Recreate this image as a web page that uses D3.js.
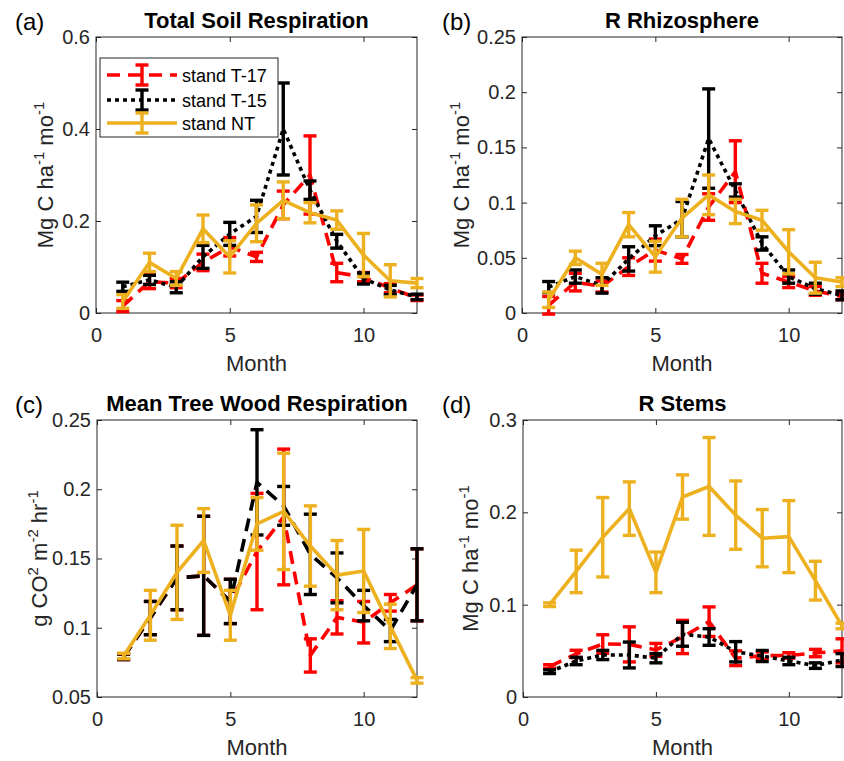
<!DOCTYPE html>
<html lang="en">
<head>
<meta charset="UTF-8">
<title>Respiration by month</title>
<script src="https://d3js.org/d3.v7.min.js"></script>
<style>
  body { margin: 0; background: #fff; }
  svg { font-family: "Liberation Sans", Arial, sans-serif; }
</style>
</head>
<body>
<script>
// ---- data ----
const months = [1, 2, 3, 4, 5, 6, 7, 8, 9, 10, 11, 12];
const seriesNames = ["stand T-17", "stand T-15", "stand NT"];

// (a) total soil respiration
const soilT17    = [0.015, 0.068, 0.065, 0.110, 0.144, 0.122, 0.235, 0.300, 0.088, 0.078, 0.054, 0.033];
const soilT17Err = [0.012, 0.015, 0.010, 0.018, 0.020, 0.010, 0.030, 0.085, 0.020, 0.010, 0.010, 0.006];
const soilT15    = [0.057, 0.072, 0.056, 0.122, 0.172, 0.210, 0.400, 0.267, 0.156, 0.075, 0.050, 0.035];
const soilT15Err = [0.010, 0.010, 0.012, 0.025, 0.025, 0.035, 0.100, 0.020, 0.015, 0.012, 0.010, 0.006];
const soilNT     = [0.025, 0.110, 0.075, 0.183, 0.122, 0.195, 0.245, 0.218, 0.202, 0.126, 0.070, 0.065];
const soilNTErr  = [0.015, 0.020, 0.015, 0.030, 0.035, 0.040, 0.040, 0.022, 0.020, 0.047, 0.035, 0.010];

// (b) rhizosphere
const rhizoT17    = [0.007, 0.028, 0.024, 0.042, 0.057, 0.049, 0.096, 0.128, 0.036, 0.028, 0.020, 0.015];
const rhizoT17Err = [0.008, 0.008, 0.005, 0.008, 0.010, 0.004, 0.012, 0.028, 0.009, 0.005, 0.004, 0.003];
const rhizoT15    = [0.0235, 0.033, 0.025, 0.049, 0.070, 0.085, 0.158, 0.111, 0.063, 0.033, 0.022, 0.016];
const rhizoT15Err = [0.005, 0.006, 0.007, 0.011, 0.009, 0.016, 0.045, 0.006, 0.006, 0.006, 0.005, 0.004];
const rhizoNT     = [0.012, 0.050, 0.035, 0.080, 0.051, 0.086, 0.107, 0.092, 0.084, 0.0555, 0.032, 0.028];
const rhizoNTErr  = [0.007, 0.006, 0.010, 0.011, 0.014, 0.017, 0.018, 0.011, 0.009, 0.020, 0.014, 0.004];

// (c) mean tree wood respiration
const woodT17    = [0.079, 0.107, 0.136, 0.1375, 0.119, 0.155, 0.180, 0.080, 0.1075, 0.104, 0.118, 0.131];
const woodT17Err = [0.002, 0.012, 0.023, 0.043, 0.016, 0.042, 0.049, 0.012, 0.012, 0.015, 0.006, 0.026];
const woodT15    = [0.079, 0.107, 0.136, 0.1375, 0.119, 0.205, 0.188, 0.153, 0.136, 0.116, 0.098, 0.131];
const woodT15Err = [0.002, 0.012, 0.023, 0.043, 0.016, 0.038, 0.014, 0.029, 0.018, 0.011, 0.008, 0.026];
const woodNT     = [0.0796, 0.109, 0.140, 0.163, 0.109, 0.175, 0.184, 0.159, 0.138, 0.141, 0.101, 0.062];
const woodNTErr  = [0.002, 0.018, 0.034, 0.023, 0.018, 0.019, 0.042, 0.029, 0.025, 0.030, 0.016, 0.002];

// (d) stems
const stemT17    = [0.033, 0.0466, 0.0574, 0.057, 0.051, 0.065, 0.0816, 0.042, 0.0448, 0.045, 0.0476, 0.050];
const stemT17Err = [0.002, 0.004, 0.010, 0.019, 0.007, 0.018, 0.016, 0.008, 0.004, 0.003, 0.004, 0.013];
const stemT15    = [0.0274, 0.039, 0.0455, 0.0455, 0.042, 0.068, 0.065, 0.049, 0.0444, 0.039, 0.034, 0.040];
const stemT15Err = [0.002, 0.004, 0.005, 0.014, 0.005, 0.013, 0.009, 0.011, 0.006, 0.004, 0.003, 0.007];
const stemNT     = [0.100, 0.136, 0.173, 0.204, 0.135, 0.2166, 0.228, 0.197, 0.172, 0.1737, 0.126, 0.077];
const stemNTErr  = [0.002, 0.023, 0.043, 0.029, 0.022, 0.024, 0.053, 0.037, 0.031, 0.039, 0.021, 0.003];

const xTicks = [0, 5, 10];
const yTicksA = [0, 0.2, 0.4, 0.6];
const yTicksB = [0, 0.05, 0.1, 0.15, 0.2, 0.25];
const yTicksC = [0.05, 0.1, 0.15, 0.2, 0.25];
const yTicksD = [0, 0.1, 0.2, 0.3];

// ---- styling ----
const red = "#ff0000", black = "#000000", gold = "#edb120";
const axisCol = "#262626";
const dashed = "13,8", dotted = "4,4";
const lineW = 3.6, barW = 3.4;

const width = 844, height = 761;
const svg = d3.select("body").append("svg")
    .attr("width", width)
    .attr("height", height);

const mgLabel = [["Mg C ha", 0], ["-1", 1], [" mo", 0], ["-1", 1]];
const co2Label = [["g CO", 0], ["2", 1], [" m", 0], ["-2", 1], [" hr", 0], ["-1", 1]];

const panels = [
    { tag: "(a)", tagX: 15, title: "Total Soil Respiration", x0: 96, x1: 417, y0: 37, y1: 313,
      yDomain: [0, 0.6], yTicks: yTicksA, ylab: mgLabel, ylabX: 53, legend: true,
      series: [[soilT17, soilT17Err, red, dashed], [soilT15, soilT15Err, black, dotted], [soilNT, soilNTErr, gold, null]] },
    { tag: "(b)", tagX: 442, title: "R Rhizosphere", x0: 522, x1: 842, y0: 37, y1: 313,
      yDomain: [0, 0.25], yTicks: yTicksB, ylab: mgLabel, ylabX: 469,
      series: [[rhizoT17, rhizoT17Err, red, dashed], [rhizoT15, rhizoT15Err, black, dotted], [rhizoNT, rhizoNTErr, gold, null]] },
    { tag: "(c)", tagX: 15, title: "Mean Tree Wood Respiration", x0: 97, x1: 417, y0: 420, y1: 697,
      yDomain: [0.05, 0.25], yTicks: yTicksC, ylab: co2Label, ylabX: 47,
      series: [[woodT17, woodT17Err, red, dashed], [woodT15, woodT15Err, black, dashed], [woodNT, woodNTErr, gold, null]] },
    { tag: "(d)", tagX: 442, title: "R Stems", x0: 523, x1: 842, y0: 420, y1: 697,
      yDomain: [0, 0.3], yTicks: yTicksD, ylab: mgLabel, ylabX: 478,
      series: [[stemT17, stemT17Err, red, dashed], [stemT15, stemT15Err, black, dotted], [stemNT, stemNTErr, gold, null]] }
];

const fmt = d3.format("~g");
const capHalf = 6.5;

function errorBar(g, cx, yLo, yHi, color) {
    g.append("line").attr("x1", cx).attr("x2", cx).attr("y1", yLo).attr("y2", yHi)
        .attr("stroke", color).attr("stroke-width", barW);
    [yLo, yHi].forEach(yy => {
        g.append("line").attr("x1", cx - capHalf).attr("x2", cx + capHalf)
            .attr("y1", yy).attr("y2", yy)
            .attr("stroke", color).attr("stroke-width", barW);
    });
}

function addSupText(sel, parts, supSize) {
    let raised = false;
    parts.forEach(([t, sup]) => {
        const ts = sel.append("tspan").text(t);
        if (sup && !raised) { ts.attr("dy", -9).attr("font-size", supSize); raised = true; }
        else if (sup) { ts.attr("font-size", supSize); }
        else if (raised) { ts.attr("dy", 9); raised = false; }
    });
}

panels.forEach(p => {
    const x = d3.scaleLinear().domain([0, 12]).range([p.x0, p.x1]);
    const y = d3.scaleLinear().domain(p.yDomain).range([p.y1, p.y0]);
    const g = svg.append("g");

    // box
    g.append("rect")
        .attr("x", p.x0).attr("y", p.y0)
        .attr("width", p.x1 - p.x0).attr("height", p.y1 - p.y0)
        .attr("fill", "none").attr("stroke", axisCol).attr("stroke-width", 1);

    const bottom = g.append("g").attr("transform", `translate(0,${p.y1})`)
        .call(d3.axisBottom(x).tickValues(xTicks).tickSize(-5).tickPadding(15).tickFormat(fmt));
    const top = g.append("g").attr("transform", `translate(0,${p.y0})`)
        .call(d3.axisTop(x).tickValues(xTicks).tickSize(-5).tickFormat(""));
    const left = g.append("g").attr("transform", `translate(${p.x0},0)`)
        .call(d3.axisLeft(y).tickValues(p.yTicks).tickSize(-5).tickPadding(6).tickFormat(fmt));
    const right = g.append("g").attr("transform", `translate(${p.x1},0)`)
        .call(d3.axisRight(y).tickValues(p.yTicks).tickSize(-5).tickFormat(""));
    [bottom, top, left, right].forEach(a => {
        a.select(".domain").remove();
        a.selectAll("line").attr("stroke", axisCol);
        a.selectAll("text").attr("fill", axisCol).attr("font-size", 20)
            .attr("font-family", "'Liberation Sans', Arial, sans-serif");
    });

    // series
    p.series.forEach(([vals, errs, color, dash]) => {
        const sg = g.append("g");
        const line = d3.line().x((d, i) => x(months[i])).y(d => y(d));
        sg.append("path").datum(vals)
            .attr("d", line)
            .attr("fill", "none").attr("stroke", color).attr("stroke-width", lineW)
            .attr("stroke-linejoin", "round")
            .attr("stroke-dasharray", dash);
        vals.forEach((v, i) => errorBar(sg, x(months[i]), y(v - errs[i]), y(v + errs[i]), color));
    });

    // labels
    svg.append("text").attr("x", (p.x0 + p.x1) / 2).attr("y", p.y0 - 9)
        .attr("text-anchor", "middle").attr("font-size", 22).attr("font-weight", "bold")
        .attr("fill", "#000").text(p.title);
    svg.append("text").attr("x", (p.x0 + p.x1) / 2).attr("y", p.y1 + 58)
        .attr("text-anchor", "middle").attr("font-size", 22).attr("fill", axisCol).text("Month");
    const yl = svg.append("text")
        .attr("transform", `translate(${p.ylabX},${(p.y0 + p.y1) / 2}) rotate(-90)`)
        .attr("text-anchor", "middle").attr("font-size", 22).attr("fill", axisCol);
    addSupText(yl, p.ylab, 15);
    svg.append("text").attr("x", p.tagX).attr("y", p.y0 - 7)
        .attr("font-size", 24).attr("fill", "#000").text(p.tag);

    // legend
    if (p.legend) {
        const lg = svg.append("g");
        lg.append("rect").attr("x", 100).attr("y", 58).attr("width", 178).attr("height", 79)
            .attr("fill", "#fff").attr("stroke", axisCol).attr("stroke-width", 1);
        p.series.forEach(([vals, errs, color, dash], k) => {
            const ry = [75, 100, 123][k];
            lg.append("line").attr("x1", 107).attr("x2", 177).attr("y1", ry).attr("y2", ry)
                .attr("stroke", color).attr("stroke-width", lineW).attr("stroke-dasharray", dash);
            errorBar(lg, 142, ry + 10, ry - 10, color);
            lg.append("text").attr("x", 182).attr("y", ry + 6.5)
                .attr("font-size", 18).attr("fill", "#000").text(seriesNames[k]);
        });
    }
});
</script>
</body>
</html>
